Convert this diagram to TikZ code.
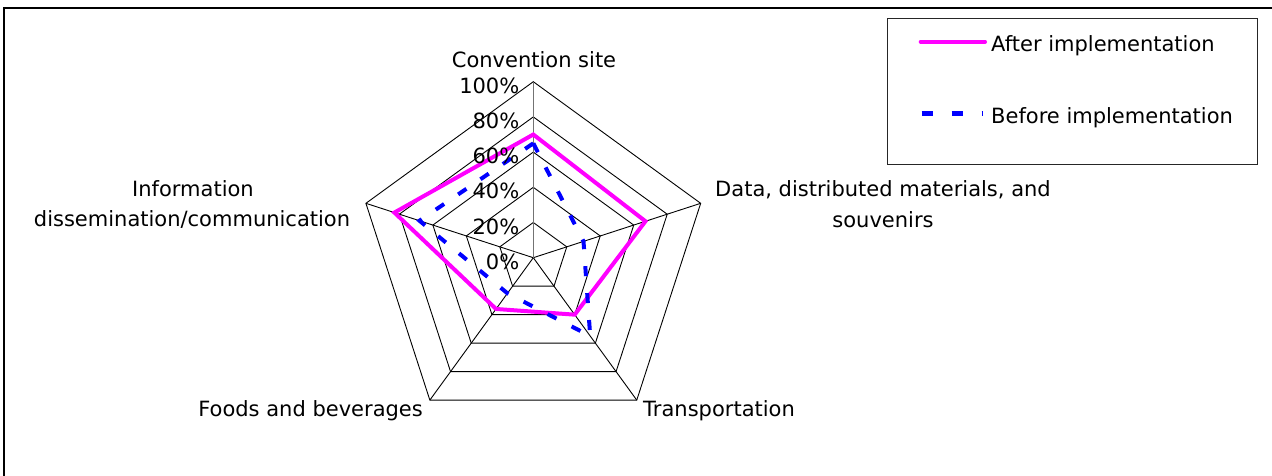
\documentclass[tikz,border=0pt]{standalone}
\usepackage{fontspec}
\setmainfont{DejaVu Sans}
\definecolor{aftc}{RGB}{255,0,255}
\definecolor{befc}{RGB}{0,0,255}
\begin{document}
\begin{tikzpicture}[x=1pt,y=-1pt,
  gridline/.style={black, line width=0.9pt, line join=miter},
  axisline/.style={black!55, line width=1.3pt},
  aftline/.style={aftc, line width=4pt, line join=miter},
  befline/.style={befc, line width=4pt, dash pattern=on 10pt off 17pt},
  lbl/.style={font=\fontsize{21}{30}\selectfont, inner sep=0pt},
  frameline/.style={black, line width=1.6pt},
  legendbox/.style={draw=black!85, line width=1pt, inner sep=0pt}]
\useasboundingbox (0,0) rectangle (1272,475);
\draw[frameline] (4,490) -- (4,8) -- (1290,8);

% radar
\begin{scope}[shift={(533.3,257.7)}, yscale=-1]
  \coordinate (c) at (0,0);
  \coordinate (vTop) at (90:176);
  \coordinate (vRight) at (18:176);
  \coordinate (vBR) at (-54:176);
  \coordinate (vBL) at (-126:176);
  \coordinate (vLeft) at (162:176);
  \foreach \k in {1,...,5}{
    \draw[gridline] (90:\k*35.2) -- (18:\k*35.2) -- (-54:\k*35.2) -- (-126:\k*35.2) -- (162:\k*35.2) -- cycle;
  }
  \foreach \v in {vRight,vBR,vBL,vLeft}{ \draw[gridline] (c) -- (\v); }
  \draw[axisline] (c) -- (vTop);
  % data
  \coordinate (a1) at (90:0.70*176);
  \coordinate (a2) at (18:0.67*176);
  \coordinate (a3) at (-54:0.40*176);
  \coordinate (a4) at (-126:0.36*176);
  \coordinate (a5) at (162:0.83*176);
  \coordinate (b1) at (90:0.65*176);
  \coordinate (b2) at (18:0.30*176);
  \coordinate (b3) at (-54:0.55*176);
  \coordinate (b4) at (-126:0.25*176);
  \coordinate (b5) at (162:0.68*176);
  \draw[aftline] (a1) -- (a2) -- (a3) -- (a4) -- (a5) -- cycle;
  \draw[befline] (b1) -- (b2) -- (b3) -- (b4) -- (b5) -- cycle;
\end{scope}

% tick labels
\node[lbl, anchor=base east] (t100) at (519.5,93.3) {100\%};
\node[lbl, anchor=base east] (t80) at (519.5,128.5) {80\%};
\node[lbl, anchor=base east] (t60) at (519.5,163.6) {60\%};
\node[lbl, anchor=base east] (t40) at (519.5,198.9) {40\%};
\node[lbl, anchor=base east] (t20) at (519.5,234.1) {20\%};
\node[lbl, anchor=base east] (t0) at (519.5,269.3) {0\%};

% category labels
\node[lbl, anchor=base] (lConv) at (534,67.3) {Convention site};
\node[lbl, anchor=base] (lData1) at (883,196) {Data, distributed materials, and};
\node[lbl, anchor=base] (lData2) at (883,227.7) {souvenirs};
\node[lbl, anchor=base] (lInfo1) at (193,196.7) {Information};
\node[lbl, anchor=base] (lInfo2) at (192,226) {dissemination/communication};
\node[lbl, anchor=base east] (lFood) at (423,416) {Foods and beverages};
\node[lbl, anchor=base west] (lTrans) at (643,416) {Transportation};

% legend
\node[legendbox, minimum width=370.4pt, minimum height=145.7pt] (legend) at (1072.5,91.2) {};
\coordinate (la1) at (920.7,41.7);
\coordinate (la2) at (985,41.7);
\coordinate (lb1) at (921.7,113.3);
\coordinate (lb2) at (983.3,113.3);
\draw[aftline, line cap=round] (la1) -- (la2);
\draw[befc, line width=4.5pt, dash pattern=on 11.7pt off 18.3pt] (lb1) -- (lb2);
\node[lbl, anchor=base west] (legA) at (991,51.7) {After implementation};
\node[lbl, anchor=base west] (legB) at (991,123.3) {Before implementation};
\end{tikzpicture}
\end{document}
